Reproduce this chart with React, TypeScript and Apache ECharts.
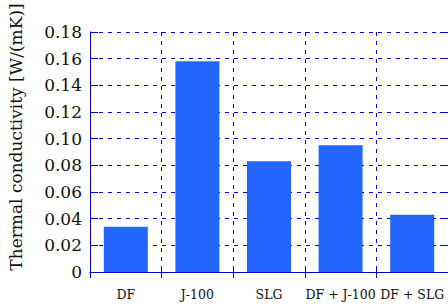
import React, { useEffect, useRef } from "react";
import * as echarts from "echarts";

const categories = ["DF", "J-100", "SLG", "DF + J-100", "DF + SLG"];
const conductivity = [0.034, 0.158, 0.083, 0.095, 0.043];
const yTicks = { min: 0, max: 0.18, interval: 0.02 };
const yTitle = "Thermal conductivity [W/(mK)]";

const BLUE = "#0000d0";
const FONT = "DejaVu Serif";

export default function App() {
  const ref = useRef<HTMLDivElement>(null);
  useEffect(() => {
    const chart = echarts.init(ref.current!, null, { renderer: "svg" });
    const lineStyle = { color: BLUE, width: 1 };
    const dashed = { color: BLUE, width: 1, type: [4, 5] as any };
    chart.setOption({
      animation: false,
      grid: { left: 90, top: 32, right: 0, bottom: 34 },
      graphic: [
        {
          type: "text",
          x: 16,
          y: 137,
          rotation: Math.PI / 2,
          style: {
            text: yTitle,
            fill: "#111",
            fontFamily: FONT,
            fontSize: 17,
            align: "center",
            verticalAlign: "middle",
          },
        },
      ],
      xAxis: [
        {
          type: "category",
          data: categories,
          axisLine: { lineStyle },
          axisTick: { show: true, inside: true, length: 6, interval: 0, lineStyle },
          axisLabel: { color: "#111", fontFamily: FONT, fontSize: 12.5, margin: 16, interval: 0 },
          splitLine: { show: true, interval: 0, lineStyle: dashed },
        },
        {
          type: "category",
          data: categories,
          position: "top",
          axisLine: { lineStyle },
          axisTick: { show: true, inside: true, length: 6, interval: 0, lineStyle },
          axisLabel: { show: false },
        },
      ],
      yAxis: [
        {
          type: "value",
          min: yTicks.min,
          max: yTicks.max,
          interval: yTicks.interval,
          axisLine: { show: true, lineStyle },
          axisTick: { show: true, inside: true, length: 8, lineStyle },
          axisLabel: {
            color: "#111",
            fontFamily: FONT,
            fontSize: 17,
            margin: 8,
            formatter: (v: number) => (v === 0 ? "0" : v.toFixed(2)),
          },
          splitLine: { show: true, lineStyle: dashed },
        },
        {
          type: "value",
          min: yTicks.min,
          max: yTicks.max,
          interval: yTicks.interval,
          position: "right",
          axisLine: { show: true, lineStyle },
          axisTick: { show: true, inside: true, length: 8, lineStyle },
          axisLabel: { show: false },
          splitLine: { show: false },
        },
      ],
      series: [
        {
          type: "bar",
          data: conductivity,
          barWidth: 44,
          itemStyle: { color: "#2266ff" },
        },
      ],
    });
    return () => chart.dispose();
  }, []);
  return <div ref={ref} style={{ width: 448, height: 306, position: "absolute", left: 0, top: 0 }} />;
}
